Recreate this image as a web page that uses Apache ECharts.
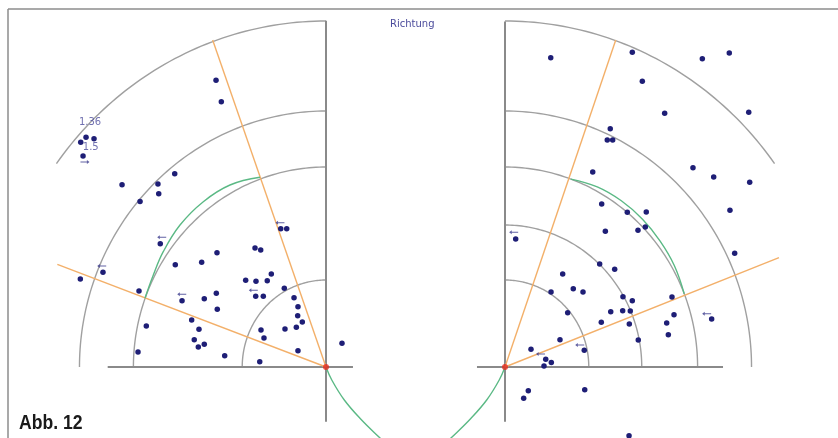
<!DOCTYPE html>
<html>
<head>
<meta charset="utf-8">
<script src="https://cdn.jsdelivr.net/npm/echarts@6/dist/echarts.min.js"></script>
<style>html,body{margin:0;padding:0;background:#fff}#c{width:838px;height:438px}</style>
</head>
<body>
<div id="c"></div>
<script>
// ---- data (units: radial chart units, centre of each quarter plot = 0,0) ----
const leftRings = [[0.87, 90, 180], [2.0, 90, 180], [2.56, 90, 180], [3.46, 90, 144]];
const rightRings = [[0.87, 0, 90], [1.42, 0, 90], [2.0, 0, 90], [2.56, 0, 90], [3.46, 36, 90]];
const leftAxes = [[-2.267, 0, 0.28, 0], [0, -0.547, 0, 3.463]];
const rightAxes = [[-0.291, 0, 2.264, 0], [0, -0.547, 0, 3.455]];
const leftDirections = [[0, 0, -1.177, 3.27], [0, 0, -2.79, 1.027]];
const rightDirections = [[0, 0, 1.150, 3.27], [0, 0, 2.845, 1.093]];
const leftGreenUpper = [[-0.685,1.897],[-0.997,1.82],[-1.274,1.653],[-1.516,1.42],[-1.690,1.153],[-1.793,0.92],[-1.880,0.687]];
const rightGreenUpper = [[0.684,1.879],[0.958,1.801],[1.208,1.662],[1.428,1.478],[1.611,1.259],[1.758,1.015],[1.861,0.733]];
const leftGreenLower = [[0,0],[0.06,-0.13],[0.19,-0.33],[0.36,-0.52],[0.55,-0.70],[0.63,-0.77]];
const rightGreenLower = [[0,0],[-0.06,-0.13],[-0.19,-0.33],[-0.36,-0.52],[-0.55,-0.70],[-0.63,-0.77]];
const leftPoints = [
 [-1.142,2.867],[-1.087,2.653],[-2.492,2.297],[-2.409,2.283],[-2.547,2.247],[-2.523,2.11],
 [-2.118,1.823],[-1.745,1.83],[-1.737,1.733],[-1.571,1.933],[-1.931,1.655],[-1.721,1.233],
 [-2.316,0.947],[-2.551,0.88],[-1.942,0.76],[-1.866,0.41],[-1.952,0.15],[-1.565,1.023],
 [-1.291,1.047],[-1.132,1.143],[-1.495,0.663],[-1.264,0.683],[-1.139,0.737],[-1.129,0.577],
 [-1.395,0.47],[-1.319,0.377],[-1.368,0.273],[-1.326,0.2],[-1.264,0.227],[-1.052,0.113],
 [-0.470,1.383],[-0.408,1.383],[-0.737,1.19],[-0.678,1.17],[-0.568,0.93],[-0.834,0.867],
 [-0.727,0.857],[-0.610,0.863],[-0.730,0.707],[-0.651,0.707],[-0.433,0.787],[-0.332,0.693],
 [-0.291,0.603],[-0.294,0.513],[-0.246,0.45],[-0.308,0.397],[-0.426,0.38],[-0.675,0.37],
 [-0.644,0.29],[-0.291,0.163],[-0.688,0.053],[0.166,0.237]
];
const rightPoints = [
 [0.475,3.093],[1.322,3.147],[2.049,3.083],[2.329,3.14],[1.426,2.857],[1.658,2.537],
 [2.531,2.547],[1.093,2.383],[1.062,2.27],[1.118,2.27],[0.911,1.95],[1.952,1.993],
 [2.167,1.9],[2.541,1.847],[1.004,1.63],[1.270,1.547],[1.467,1.55],[2.336,1.567],
 [1.042,1.357],[1.381,1.367],[1.457,1.4],[2.385,1.137],[0.111,1.28],[0.983,1.03],
 [1.139,0.977],[0.599,0.93],[0.478,0.75],[0.709,0.783],[0.810,0.75],[1.225,0.703],
 [1.322,0.663],[1.734,0.70],[0.651,0.543],[1.098,0.553],[1.222,0.563],[1.301,0.56],
 [1.755,0.523],[2.146,0.48],[1.0,0.447],[1.291,0.43],[1.679,0.44],[1.696,0.323],
 [1.384,0.27],[0.571,0.273],[0.823,0.167],[0.270,0.177],[0.423,0.077],[0.481,0.045],
 [0.405,0.01],[0.242,-0.237],[0.194,-0.313],[0.828,-0.227],[1.288,-0.687]
];
// arrows: x, y, direction (0 = left, 180 = right)
const leftArrows = [[-0.478,1.443,0],[-1.706,1.297,0],[-2.329,1.01,0],[-1.498,0.727,0],[-0.755,0.767,0],[-2.503,2.05,180]];
const rightArrows = [[0.090,1.347,0],[2.094,0.533,0],[0.776,0.22,0],[0.369,0.13,0]];
const leftNotes = [[-2.45,2.443,'1.36'],[-2.443,2.193,'1.5']];
const centre = [[0, 0]];
const titleText = 'Richtung';
const figLabel = 'Abb. 12';

// ---- layout ----
const PX_X = 96.3, PX_Y = 100;
const cxL = 326, cxR = 505, cy = 367;
const xMinL = -3.3, xMaxL = 0.7, xMinR = -0.7, xMaxR = 3.3, yMin = -0.8, yMax = 3.6;

const chart = echarts.init(document.getElementById('c'), null, {renderer: 'canvas'});

function ringSeries(data, idx) {
  return {
    type: 'custom', xAxisIndex: idx, yAxisIndex: idx, silent: true, z: 1,
    data: data,
    renderItem: function (params, api) {
      const r = api.value(0), a0 = api.value(1), a1 = api.value(2);
      const c = api.coord([0, 0]);
      const s = api.size([r, r]);
      const pts = [];
      for (let a = a0; a <= a1 + 1e-9; a += 1) {
        const t = a * Math.PI / 180;
        pts.push([c[0] + s[0] * Math.cos(t), c[1] - s[1] * Math.sin(t)]);
      }
      return {type: 'polyline', shape: {points: pts}, style: {stroke: '#a0a0a0', lineWidth: 1.4, fill: 'none'}};
    }
  };
}
function segSeries(data, idx, color, width, z) {
  return {
    type: 'custom', xAxisIndex: idx, yAxisIndex: idx, silent: true, z: z,
    data: data,
    renderItem: function (params, api) {
      const p1 = api.coord([api.value(0), api.value(1)]);
      const p2 = api.coord([api.value(2), api.value(3)]);
      return {type: 'line', shape: {x1: p1[0], y1: p1[1], x2: p2[0], y2: p2[1]}, style: {stroke: color, lineWidth: width}};
    }
  };
}
function greenSeries(data, idx) {
  return {type: 'line', xAxisIndex: idx, yAxisIndex: idx, data: data, smooth: 0.4, showSymbol: false, silent: true, z: 3,
    lineStyle: {color: '#5bb985', width: 1.4}};
}
function pointSeries(data, idx) {
  return {type: 'scatter', xAxisIndex: idx, yAxisIndex: idx, data: data, symbolSize: 5.5, silent: true, z: 5,
    itemStyle: {color: '#1e1e76', opacity: 1}};
}
const arrowPath = 'path://M0,5 L4,1.5 L4,4 L14,4 L14,6 L4,6 L4,8.5 Z';
function arrowSeries(data, idx) {
  return {type: 'scatter', xAxisIndex: idx, yAxisIndex: idx, silent: true, z: 5,
    data: data.map(d => ({value: [d[0], d[1]], symbolRotate: d[2]})),
    symbol: arrowPath, symbolSize: [9, 4], itemStyle: {color: '#3a3a8c'}};
}

const gridBase = {top: cy - yMax * PX_Y, height: (yMax - yMin) * PX_Y, outerBoundsMode: 'none', containLabel: false};
const option = {
  animation: false,
  backgroundColor: '#ffffff',
  title: {text: titleText, left: 390, top: 19, padding: 0,
    textStyle: {fontFamily: 'DejaVu Sans', fontSize: 10, fontWeight: 'normal', color: '#4c4c9c'}},
  grid: [
    Object.assign({left: cxL + xMinL * PX_X, width: (xMaxL - xMinL) * PX_X}, gridBase),
    Object.assign({left: cxR + xMinR * PX_X, width: (xMaxR - xMinR) * PX_X}, gridBase)
  ],
  xAxis: [
    {type: 'value', gridIndex: 0, min: xMinL, max: xMaxL, show: false},
    {type: 'value', gridIndex: 1, min: xMinR, max: xMaxR, show: false}
  ],
  yAxis: [
    {type: 'value', gridIndex: 0, min: yMin, max: yMax, show: false},
    {type: 'value', gridIndex: 1, min: yMin, max: yMax, show: false}
  ],
  graphic: [
    {type: 'line', shape: {x1: 8, y1: 9, x2: 838, y2: 9}, style: {stroke: '#8c8c8c', lineWidth: 1.5}, silent: true},
    {type: 'line', shape: {x1: 8, y1: 9, x2: 8, y2: 438}, style: {stroke: '#8c8c8c', lineWidth: 1.5}, silent: true},
    {type: 'text', x: 19, y: 413, scaleX: 0.88, silent: true,
      style: {text: figLabel, fontFamily: "'Liberation Sans', Arial, sans-serif",
        fontWeight: 'bold', fontSize: 20, fill: '#1a1a1a'}}
  ],
  series: [
    ringSeries(leftRings, 0),
    ringSeries(rightRings, 1),
    segSeries(leftAxes, 0, '#8a8a8a', 2, 2),
    segSeries(rightAxes, 1, '#8a8a8a', 2, 2),
    segSeries(leftDirections, 0, '#f3b06a', 1.4, 3),
    segSeries(rightDirections, 1, '#f3b06a', 1.4, 3),
    greenSeries(leftGreenUpper, 0),
    greenSeries(rightGreenUpper, 1),
    greenSeries(leftGreenLower, 0),
    greenSeries(rightGreenLower, 1),
    pointSeries(leftPoints, 0),
    pointSeries(rightPoints, 1),
    arrowSeries(leftArrows, 0),
    arrowSeries(rightArrows, 1),
    {type: 'scatter', xAxisIndex: 0, yAxisIndex: 0, silent: true, z: 6, symbolSize: 0,
      data: leftNotes.map(n => ({value: [n[0], n[1]], name: n[2]})),
      label: {show: true, position: 'inside', formatter: '{b}', fontFamily: 'DejaVu Sans', fontSize: 10, color: '#4c4c9c'}},
    {type: 'scatter', xAxisIndex: 0, yAxisIndex: 0, data: centre, symbolSize: 6, silent: true, z: 7, itemStyle: {color: '#e52a1e'}},
    {type: 'scatter', xAxisIndex: 1, yAxisIndex: 1, data: centre, symbolSize: 6, silent: true, z: 7, itemStyle: {color: '#e52a1e'}}
  ]
};
chart.setOption(option);
</script>
</body>
</html>
